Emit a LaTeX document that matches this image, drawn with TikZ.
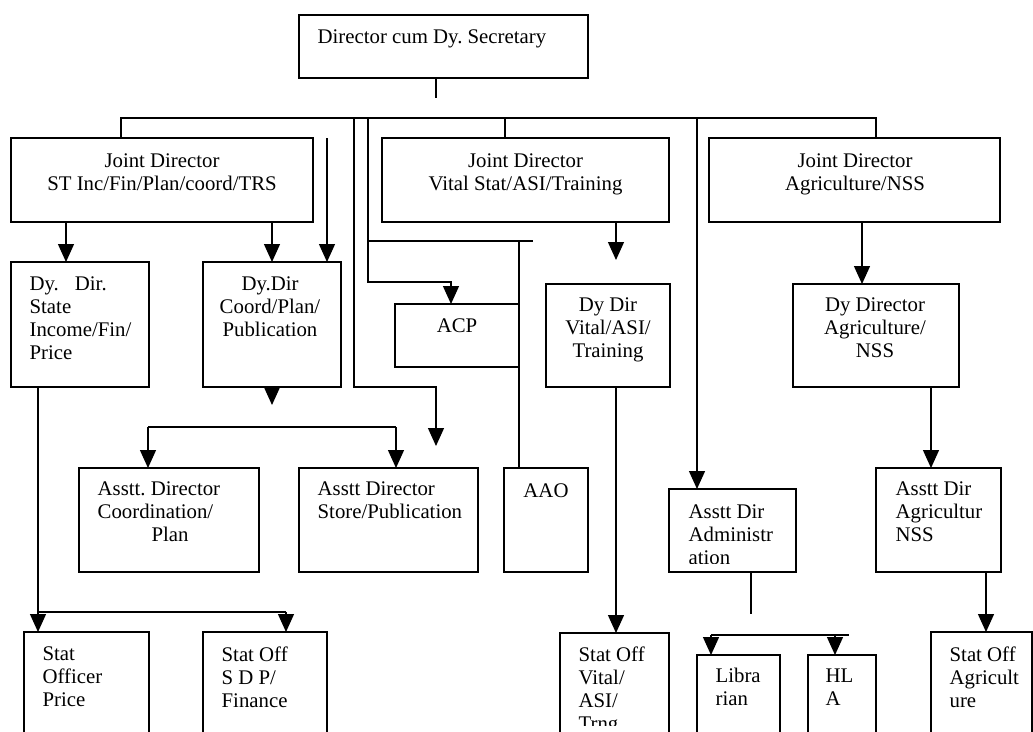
\documentclass[tikz,border=0pt]{standalone}
\usepackage{fontspec}
\setmainfont{Liberation Serif}
\usetikzlibrary{arrows.meta}
\begin{document}
\begin{tikzpicture}[x=1pt,y=-1pt,
  line width=1.3pt, line join=miter,
  box/.style={draw, rectangle, anchor=north west, inner sep=0pt, outer sep=0pt},
  lbl/.style={inner sep=0pt, font=\fontsize{20.8}{23}\selectfont\frenchspacing,
              execute at begin node=\strut},
  tl/.style={lbl, anchor=north west, align=left},
  tc/.style={lbl, anchor=north, align=center},
  arr/.style={-{Triangle[width=16pt,length=18pt]}},
]
% page frame
\clip (0,0) rectangle (1033,731);
\fill[white] (0,0) rectangle (1033,731);

% ---------- boxes ----------
\node[box, minimum width=289pt, minimum height=63pt]  (top) at (299,15)  {};
\node[box, minimum width=302pt, minimum height=84pt]  (jd1) at (11,138)  {};
\node[box, minimum width=287pt, minimum height=84pt]  (jd2) at (382,138) {};
\node[box, minimum width=291pt, minimum height=84pt]  (jd3) at (709,138) {};
\node[box, minimum width=138pt, minimum height=125pt] (dds) at (11,262)  {};
\node[box, minimum width=138pt, minimum height=125pt] (ddc) at (203,262) {};
\node[box, minimum width=124pt, minimum height=63pt]  (acp) at (395,304) {};
\node[box, minimum width=124pt, minimum height=103pt] (ddv) at (546,284) {};
\node[box, minimum width=166pt, minimum height=103pt] (dda) at (793,284) {};
\node[box, minimum width=180pt, minimum height=104pt] (adc) at (79,468)  {};
\node[box, minimum width=179pt, minimum height=104pt] (ads) at (299,468) {};
\node[box, minimum width=84pt,  minimum height=104pt] (aao) at (504,468) {};
\node[box, minimum width=127pt, minimum height=83pt]  (adm) at (669,489) {};
\node[box, minimum width=125pt, minimum height=104pt] (adg) at (876,468) {};
\node[box, minimum width=125pt, minimum height=140pt] (sop) at (24,632)  {};
\node[box, minimum width=124pt, minimum height=140pt] (sos) at (203,632) {};
\node[box, minimum width=109pt, minimum height=140pt] (sov) at (560,633) {};
\node[box, minimum width=83pt,  minimum height=140pt] (lib) at (697,655) {};
\node[box, minimum width=68pt,  minimum height=140pt] (hla) at (808,655) {};
\node[box, minimum width=101pt, minimum height=140pt] (soa) at (931,632) {};

% ---------- texts ----------
\node[tl] (t-top) at (317,26.9)  {Director cum Dy. Secretary};
\node[tc] (t-jd1) at (162,152.9) {Joint Director\\ST Inc/Fin/Plan/coord/TRS};
\node[tc] (t-jd2) at (525.5,152.9) {Joint Director\\Vital Stat/ASI/Training};
\node[tc] (t-jd3) at (855,152.9) {Joint Director\\Agriculture/NSS};
\node[tl] (t-dds) at (29,275.9)  {Dy.\hspace{16pt}Dir.\\State\\Income/Fin/\\Price};
\node[tc] (t-ddc) at (270,275.9) {Dy.Dir\\Coord/Plan/\\Publication};
\node[tc] (t-acp) at (457,315.9) {ACP};
\node[tc] (t-ddv) at (608,296.9) {Dy Dir\\Vital/ASI/\\Training};
\node[tc] (t-dda) at (875,296.9) {Dy Director\\Agriculture/\\NSS};
\node[tl] (t-adc) at (97,480.9)  {Asstt. Director\\Coordination/\\\hspace{54pt}Plan};
\node[tl] (t-ads) at (317,480.9) {Asstt Director\\Store/Publication};
\node[tc] (t-aao) at (546,480.9) {AAO};
\begin{scope}
  \clip (669,489) rectangle (796,563);
  \node[tl] (t-adm) at (688,503.9) {Asstt Dir\\Administr\\ation};
\end{scope}
\node[tl] (t-adg) at (895,480.9) {Asstt Dir\\Agricultur\\NSS};
\node[tl] (t-sop) at (42,645.9)  {Stat\\Officer\\Price};
\node[tl] (t-sos) at (221,645.9) {Stat Off\\S D P/\\Finance};
\begin{scope}
  \clip (560,633) rectangle (669,725);
  \node[tl] (t-sov) at (578,645.9) {Stat Off\\Vital/\\ASI/\\Trng};
\end{scope}
\node[tl] (t-lib) at (715,667.9) {Libra\\rian};
\node[tl] (t-hla) at (825,667.9) {HL\\A};
\node[tl] (t-soa) at (949,645.9) {Stat Off\\Agricult\\ure};

% ---------- junction points and free ends ----------
\coordinate (stubend) at (436,98);
\coordinate (busL) at (121,118);
\coordinate (busR) at (876,118);
\coordinate (b2) at (505,118);
\coordinate (b3) at (354,118);
\coordinate (b4) at (368,118);
\coordinate (b5) at (697,118);
\coordinate (st) at (436,446);
\coordinate (t1) at (368,241);
\coordinate (t1e) at (533,241);
\coordinate (t2) at (519,241);
\coordinate (s1) at (327,138);
\coordinate (a1) at (66,222);
\coordinate (dd1) at (272,405);
\coordinate (c2l) at (148,427);
\coordinate (c2r) at (396,427);
\coordinate (e1) at (38,612);
\coordinate (e2) at (286,612);
\coordinate (f1) at (616,260);
\coordinate (g1) at (862,222);
\coordinate (h1) at (931,387);
\coordinate (k1) at (986,572);
\coordinate (m1) at (751,614);
\coordinate (n1) at (711,635);
\coordinate (n2) at (849,635);
\coordinate (n3) at (835,635);

% ---------- connectors ----------
\draw (top.south -| stubend) -- (stubend);
\draw (jd1.north -| busL) -- (busL) -- (busR) -- (jd3.north -| busR);
\draw (b2) -- (b2 |- jd2.north);
\draw[arr] (b3) -- (b3 |- ddc.south) -| (st);
\draw[arr] (b4) -- ++(0,164) -| ([xshift=-6pt]acp.north);
\draw (t1) -- (t1e);
\draw (t2) -- (t2 |- aao.north);
\draw[arr] (b5) -- (b5 |- adm.north);
\draw[arr] (s1) -- (s1 |- ddc.north);

\draw[arr] (a1) -- (a1 |- dds.north);
\draw[arr] (jd1.south -| ddc.north) -- (ddc.north);
\draw[arr] (ddc.south) -- (dd1);
\draw (c2l) -- (c2r);
\draw[arr] (c2l) -- (c2l |- adc.north);
\draw[arr] (c2r) -- (c2r |- ads.north);

\draw (dds.south -| e1) -- (e1) -- (e2);
\draw[arr] (e1) -- (e1 |- sop.north);
\draw[arr] (e2) -- (e2 |- sos.north);

\draw[arr] (jd2.south -| f1) -- (f1);
\draw[arr] (ddv.south -| f1) -- (f1 |- sov.north);

\draw[arr] (g1) -- (g1 |- dda.north);
\draw[arr] (h1) -- (h1 |- adg.north);
\draw[arr] (k1) -- (k1 |- soa.north);

\draw (adm.south -| m1) -- (m1);
\draw (n1) -- (n2);
\draw[arr] (n1) -- (n1 |- lib.north);
\draw[arr] (n3) -- (n3 |- hla.north);
\end{tikzpicture}
\end{document}
